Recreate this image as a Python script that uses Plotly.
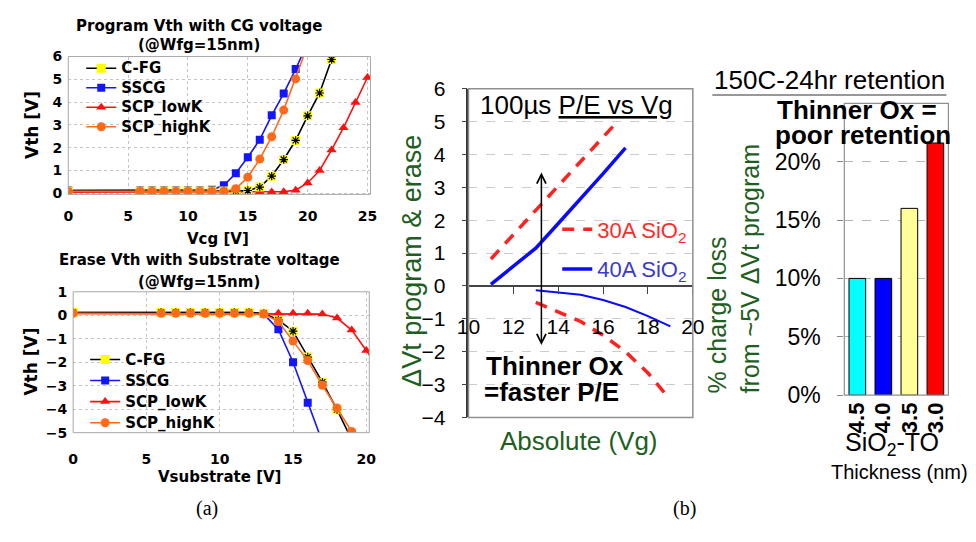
import plotly.graph_objects as go

W, H = 976, 542

# ---------------- data: (a) program Vth vs Vcg ----------------
prog_x_cfg = [0, 6, 7, 8, 9, 10, 11, 12, 13, 14, 15, 16, 17, 18, 19, 20, 21, 22, 23]
prog_cfg = [0.10, 0.10, 0.10, 0.10, 0.10, 0.10, 0.10, 0.10, 0.10, 0.10, 0.12, 0.27, 0.75, 1.48, 2.32, 3.40, 4.40, 5.87, 7.40]
prog_x_sscg = [0, 6, 7, 8, 9, 10, 11, 12, 13, 14, 15, 16, 17, 18, 19, 20]
prog_sscg = [0.13, 0.13, 0.13, 0.13, 0.13, 0.13, 0.13, 0.15, 0.35, 0.88, 1.58, 2.35, 3.42, 4.38, 5.45, 6.60]
prog_x_lowk = [0, 6, 7, 8, 9, 10, 11, 12, 13, 14, 15, 16, 17, 18, 19, 20, 21, 22, 23, 24, 25]
prog_lowk = [0.05, 0.05, 0.05, 0.05, 0.05, 0.05, 0.05, 0.05, 0.05, 0.05, 0.05, 0.05, 0.05, 0.07, 0.13, 0.45, 1.00, 1.90, 2.88, 3.98, 5.08]
prog_x_highk = [0, 6, 7, 8, 9, 10, 11, 12, 13, 14, 15, 16, 17, 18, 19, 20]
prog_highk = [0.08, 0.08, 0.08, 0.08, 0.08, 0.08, 0.08, 0.08, 0.08, 0.20, 0.70, 1.50, 2.48, 3.65, 5.02, 6.50]

# ---------------- data: (a) erase Vth vs Vsubstrate ----------------
ers_x_cfg = [0, 6, 7, 8, 9, 10, 11, 12, 13, 14, 15, 16, 17, 18, 19]
ers_cfg = [0.12, 0.12, 0.12, 0.12, 0.12, 0.12, 0.12, 0.12, 0.08, -0.20, -0.68, -1.78, -2.85, -4.02, -5.30]
ers_x_sscg = [0, 6, 7, 8, 9, 10, 11, 12, 13, 14, 15, 16, 17]
ers_sscg = [0.12, 0.12, 0.12, 0.12, 0.12, 0.12, 0.12, 0.12, 0.05, -0.60, -2.00, -3.73, -5.40]
ers_x_lowk = [0, 6, 7, 8, 9, 10, 11, 12, 13, 14, 15, 16, 17, 18, 19, 20, 21]
ers_lowk = [0.08, 0.08, 0.08, 0.08, 0.08, 0.08, 0.08, 0.08, 0.08, 0.08, 0.08, 0.08, 0.05, -0.12, -0.63, -1.50, -2.40]
ers_x_highk = [0, 6, 7, 8, 9, 10, 11, 12, 13, 14, 15, 16, 17, 18, 19]
ers_highk = [0.08, 0.08, 0.08, 0.08, 0.08, 0.08, 0.08, 0.08, 0.05, -0.27, -1.10, -1.93, -2.98, -3.95, -4.95]

# ---------------- data: (b) 100us P/E vs Vg ----------------
vg_30_prog = [11, 13, 15, 16.5]
dvt_30_prog = [0.82, 2.30, 3.78, 4.90]
vg_40_prog = [11, 12, 13, 14, 15, 16, 17]
dvt_40_prog = [0.05, 0.60, 1.15, 1.90, 2.65, 3.42, 4.20]
vg_30_ers = [13, 14, 15, 16, 17, 18, 18.8]
dvt_30_ers = [-0.50, -0.78, -1.08, -1.50, -2.00, -2.65, -3.30]
vg_40_ers = [13, 14, 15, 16, 17, 18, 19]
dvt_40_ers = [-0.13, -0.20, -0.27, -0.43, -0.64, -0.92, -1.23]
arrow_vg = 13.25
arrow_top, arrow_bottom = 3.5, -1.8

# ---------------- data: (b) retention bars ----------------
thickness = ["4.5", "4.0", "3.5", "3.0"]
charge_loss = [10, 10, 16, 21.6]
bar_colors = ["#00ffff", "#0000ff", "#ffff99", "#ff0000"]
loss_ticks = [0, 5, 10, 15, 20]
loss_ticktext = ["0%", "5%", "10%", "15%", "20%"]

# ---------------- helpers ----------------
def dx(a, b):
    return [a / W, b / W]

def dy(top, bottom):
    return [1 - bottom / H, 1 - top / H]

def px(x):
    return x / W

def py(y):
    return 1 - y / H

LEFT_FONT = "DejaVu Sans"
SANS = "Liberation Sans, Arial"
GREEN = "#1e5e1e"
C_BLACK = "#000000"
C_BLUE = "#1414ff"
C_RED = "#ff1010"
C_ORANGE = "#ff6a1a"

fig = go.Figure()

def lname(s):
    return '<span style="font-size:15px">%s</span>' % s

def add_series(x, y, xa, ya, name, color, symbol, size, legend, rank, mcolor=None, showlegend=True):
    fig.add_trace(go.Scatter(
        x=x, y=y, xaxis=xa, yaxis=ya, mode="lines+markers", name=lname(name),
        line=dict(color=color, width=1.6),
        marker=dict(symbol=symbol, size=size, color=mcolor or color, line=dict(width=0)),
        legend=legend, legendrank=rank, showlegend=showlegend))

def add_cfg_marks(x, y, xa, ya):
    fig.add_trace(go.Scatter(
        x=x, y=y, xaxis=xa, yaxis=ya, mode="markers", showlegend=False,
        marker=dict(symbol="asterisk-open", size=7, color="black", line=dict(width=1.2, color="black"))))

# top-left (program)
add_series(prog_x_sscg, prog_sscg, "x", "y", "SSCG", C_BLUE, "square", 8, "legend", 2)
add_series(prog_x_lowk, prog_lowk, "x", "y", "SCP_lowK", C_RED, "triangle-up", 9, "legend", 3)
add_series(prog_x_cfg, prog_cfg, "x", "y", "C-FG", C_BLACK, "square", 9, "legend", 1, mcolor="#ffff00")
add_cfg_marks(prog_x_cfg, prog_cfg, "x", "y")
add_series(prog_x_highk, prog_highk, "x", "y", "SCP_highK", C_ORANGE, "circle", 9, "legend", 4)

# bottom-left (erase)
add_series(ers_x_sscg, ers_sscg, "x2", "y2", "SSCG", C_BLUE, "square", 8, "legend2", 2)
add_series(ers_x_lowk, ers_lowk, "x2", "y2", "SCP_lowK", C_RED, "triangle-up", 9, "legend2", 3)
add_series(ers_x_cfg, ers_cfg, "x2", "y2", "C-FG", C_BLACK, "square", 9, "legend2", 1, mcolor="#ffff00")
add_cfg_marks(ers_x_cfg, ers_cfg, "x2", "y2")
add_series(ers_x_highk, ers_highk, "x2", "y2", "SCP_highK", C_ORANGE, "circle", 9, "legend2", 4)

# middle
MID_RED = "#ff2020"
MID_BLUE = "#0a0aff"
fig.add_trace(go.Scatter(x=vg_30_prog, y=dvt_30_prog, xaxis="x3", yaxis="y3", mode="lines",
                         line=dict(color=MID_RED, width=3.5, dash="12px,9px"),
                         name='<span style="color:#ff2a2a">30A SiO<sub>2</sub></span>',
                         legend="legend3", legendgroup="a", legendrank=1))
fig.add_trace(go.Scatter(x=vg_40_prog, y=dvt_40_prog, xaxis="x3", yaxis="y3", mode="lines",
                         line=dict(color=MID_BLUE, width=3.5),
                         name='<span style="color:#3a3ad0">40A SiO<sub>2</sub></span>',
                         legend="legend3", legendgroup="b", legendrank=2))
fig.add_trace(go.Scatter(x=vg_30_ers, y=dvt_30_ers, xaxis="x3", yaxis="y3", mode="lines",
                         line=dict(color=MID_RED, width=3.5, dash="12px,9px"), showlegend=False))
fig.add_trace(go.Scatter(x=vg_40_ers, y=dvt_40_ers, xaxis="x3", yaxis="y3", mode="lines",
                         line=dict(color=MID_BLUE, width=2), showlegend=False))

# right bars
fig.add_trace(go.Bar(x=thickness, y=charge_loss, xaxis="x4", yaxis="y4",
                     marker=dict(color=bar_colors, line=dict(color="black", width=1)),
                     showlegend=False))

# ---------------- axes ----------------
lt_tick = dict(family=LEFT_FONT, size=14, color="black", weight="bold")
grid_dot = dict(showgrid=True, gridcolor="#c4c4c4", griddash="dot", gridwidth=1)

d1x, d1y = dx(57.7, 367.5), dy(46.7, 191.2)
d2x, d2y = dx(62.7, 366.3), dy(293.3, 441.0)
d3x, d3y = dx(468.0, 698.0), dy(80.5, 425.0)
d4x, d4y = dx(853.3, 960.0), dy(95.7, 401.7)

y3_range = [-4, 6]
x3_pos = d3y[0] + (0 - y3_range[0]) / (y3_range[1] - y3_range[0]) * (d3y[1] - d3y[0])

layout = dict(
    width=W, height=H, autosize=False,
    margin=dict(l=0, r=0, t=0, b=0),
    paper_bgcolor="white", plot_bgcolor="white",
    barmode="group", bargap=0.36,
    xaxis=dict(domain=d1x, anchor="y", range=[0, 25.25], tickvals=[0, 5, 10, 15, 20, 25],
               tickfont=lt_tick, ticks="", showline=False, zeroline=False,
               ticklabelstandoff=12, **grid_dot),
    yaxis=dict(domain=d1y, anchor="x", range=[-0.05, 6], tickvals=[0, 1, 2, 3, 4, 5, 6],
               tickfont=lt_tick, ticks="", showline=False, zeroline=False,
               ticklabelstandoff=5, **grid_dot),
    xaxis2=dict(domain=d2x, anchor="y2", range=[0, 20.2], tickvals=[0, 5, 10, 15, 20],
                tickfont=lt_tick, ticks="", showline=False, zeroline=False,
                ticklabelstandoff=16, **grid_dot),
    yaxis2=dict(domain=d2y, anchor="x2", range=[-5, 1], tickvals=[-5, -4, -3, -2, -1, 0, 1],
                tickfont=lt_tick, ticks="", showline=False, zeroline=False,
                ticklabelstandoff=5, **grid_dot),
    xaxis3=dict(domain=d3x, anchor="free", position=x3_pos, range=[10, 20],
                tickvals=[10, 12, 14, 16, 18, 20],
                tickfont=dict(family=SANS, size=21, color="black"),
                ticks="outside", ticklen=7, tickcolor="#444", showline=True, linecolor="#444",
                linewidth=1.5, showgrid=False, zeroline=False, ticklabelstandoff=15),
    yaxis3=dict(domain=d3y, anchor="x3", range=y3_range, tickvals=list(range(-4, 7)),
                tickfont=dict(family=SANS, size=21, color="black"),
                ticks="outside", ticklen=5, tickcolor="#444", showline=True, linecolor="#333",
                linewidth=1.5, showgrid=True, gridcolor="#cccccc", griddash="dash",
                zeroline=True, zerolinecolor="#444", zerolinewidth=1.5, ticklabelstandoff=12),
    xaxis4=dict(domain=d4x, anchor="y4", type="category", tickangle=-90,
                tickfont=dict(family=SANS, size=22, color="black", weight="bold"),
                ticks="", showline=False, showgrid=False, ticklabelstandoff=2),
    yaxis4=dict(domain=d4y, anchor="x4", range=[0, 25], tickvals=loss_ticks, ticktext=loss_ticktext,
                tickfont=dict(family=SANS, size=23, color="black"),
                ticks="outside", ticklen=6, tickcolor="#888", showline=False,
                showgrid=True, gridcolor="#b5b5b5", griddash="dash", zeroline=False,
                ticklabelstandoff=12),
    legend=dict(x=px(71), y=py(43.5), xanchor="left", yanchor="top", bgcolor="rgba(0,0,0,0)",
                font=dict(family=LEFT_FONT, size=12.7, color="black", weight="bold"),
                tracegroupgap=0, itemwidth=30),
    legend2=dict(x=px(75), y=py(348), xanchor="left", yanchor="top", bgcolor="rgba(0,0,0,0)",
                 font=dict(family=LEFT_FONT, size=13.9, color="black", weight="bold"),
                 tracegroupgap=0, itemwidth=30),
    legend3=dict(x=px(559), y=py(206), xanchor="left", yanchor="top", bgcolor="rgba(0,0,0,0)",
                 font=dict(family=SANS, size=22, color="black"),
                 tracegroupgap=8, itemwidth=30),
    showlegend=True,
)
fig.update_layout(**layout)

# ---------------- boxes ----------------
shapes = []
for xr, yr, col, w in [("x domain", "y domain", "#a8a8a8", 1), ("x2 domain", "y2 domain", "#a8a8a8", 1),
                       ("x3 domain", "y3 domain", "#8f8f8f", 1.5), ("x4 domain", "y4 domain", "#8f8f8f", 1.2)]:
    shapes.append(dict(type="rect", xref=xr, yref=yr, x0=0, x1=1, y0=0, y1=1,
                       line=dict(color=col, width=w), fillcolor="rgba(0,0,0,0)", layer="above"))
# underline of right title
shapes.append(dict(type="line", xref="paper", yref="paper", x0=px(718), x1=px(958), y0=py(87), y1=py(87),
                   line=dict(color="#333", width=1.2)))
fig.update_layout(shapes=shapes)

# ---------------- annotations ----------------
anns = []

def ann(text, x, y, size, color="black", family=SANS, angle=0, xanchor="center", align="center"):
    anns.append(dict(text=text, x=px(x), y=py(y), xref="paper", yref="paper", showarrow=False,
                     font=dict(family=family, size=size, color=color), textangle=angle,
                     xanchor=xanchor, yanchor="middle", align=align))

ann("<b>Program Vth with CG voltage</b>", 192, 15, 15, family=LEFT_FONT)
ann("<b>(@Wfg=15nm)</b>", 192, 35, 15, family=LEFT_FONT)
ann("<b>Vth [V]</b>", 20, 119, 17, family=LEFT_FONT, angle=-90)
ann("<b>Vcg [V]</b>", 211, 238, 15, family=LEFT_FONT)
ann("<b>Erase Vth with Substrate voltage</b>", 192, 260, 15, family=LEFT_FONT)
ann("<b>(@Wfg=15nm)</b>", 192, 283, 15, family=LEFT_FONT)
ann("<b>Vth [V]</b>", 20, 367, 17, family=LEFT_FONT, angle=-90)
ann("<b>Vsubstrate [V]</b>", 213, 487, 15, family=LEFT_FONT)

ann("100µs <u>P/E vs Vg</u>", 478, 98, 26, xanchor="left")
ann("<b>Thinner Ox</b>", 484, 371, 26, xanchor="left")
ann("<b>=faster P/E</b>", 482, 398, 26, xanchor="left")
ann("ΔVt program & erase", 410, 261, 27, color=GREEN, angle=-90)
ann("Absolute (Vg)", 581, 450, 26, color=GREEN)

ann("150C-24hr retention", 838, 71, 26)
ann("<b>Thinner Ox =</b>", 866, 103, 26)
ann("<b>poor retention</b>", 872, 129, 26)
ann("% charge loss<br>from ~5V ΔVt program", 740, 269, 25, color=GREEN, angle=-90, align="left")
ann("SiO<sub>2</sub>-TO", 902, 453, 25)
ann("Thickness (nm)", 910, 482, 20)

ann("(a)", 200, 521, 20, family="Liberation Serif")
ann("(b)", 689, 521, 20, family="Liberation Serif")

# double-headed arrow in middle panel
anns.append(dict(x=arrow_vg, y=arrow_bottom, ax=arrow_vg, ay=arrow_top, xref="x3", yref="y3",
                 axref="x3", ayref="y3", text="", showarrow=True, arrowhead=5, arrowside="end+start",
                 arrowsize=1.2, arrowwidth=1.5, arrowcolor="black", standoff=0, startstandoff=0))

fig.update_layout(annotations=anns)

fig.write_html("out.html")
